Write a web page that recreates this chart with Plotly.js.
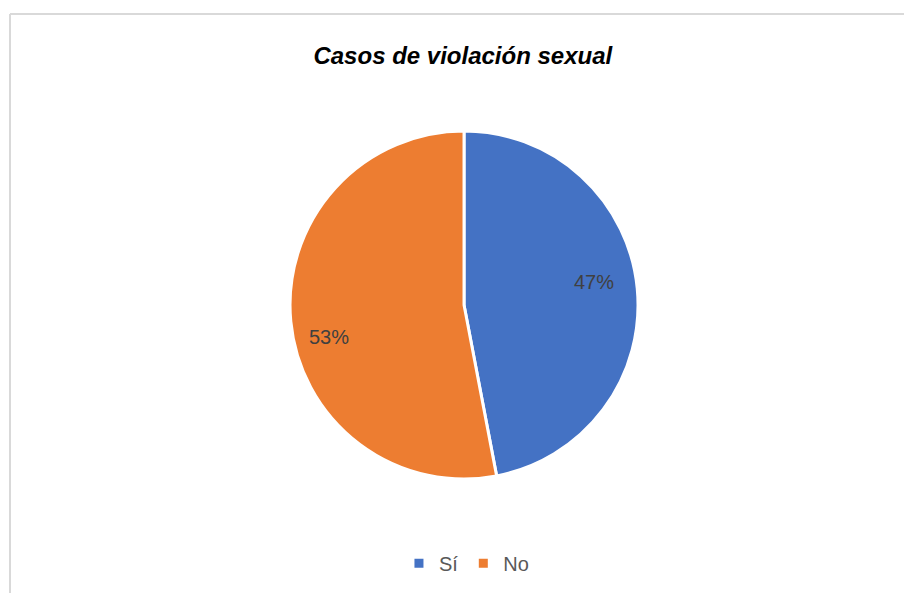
<!DOCTYPE html>
<html>
<head>
<meta charset="utf-8">
<script src="https://cdn.plot.ly/plotly-3.0.1.min.js"></script>
<style>html,body{margin:0;padding:0;background:#fff;}#chart{width:904px;height:593px;}</style>
</head>
<body>
<div id="chart"></div>
<script>
const labels = ["Sí", "No"];
const values = [47, 53];
const colors = ["#4472C4", "#ED7D31"];

const total = values.reduce((a, b) => a + b, 0);
const pctText = values.map(v => Math.round(100 * v / total) + "%");

const trace = {
  type: "pie",
  labels: labels,
  values: values,
  sort: false,
  direction: "clockwise",
  rotation: 0,
  marker: {colors: colors, line: {color: "#ffffff", width: 3}},
  textinfo: "none",
  domain: {x: [0.3208, 0.7058], y: [0.1923, 0.7791]},
  hoverinfo: "label+percent"
};

// label anchor positions (paper coords) for each slice's percentage
const labelPos = [[594 / 904, 1 - 282 / 593], [329 / 904, 1 - 337 / 593]];
const annotations = pctText.map((t, i) => ({
  text: t, xref: "paper", yref: "paper",
  x: labelPos[i][0], y: labelPos[i][1], xanchor: "center", yanchor: "middle",
  showarrow: false,
  font: {family: "Liberation Sans, Arial, sans-serif", size: 20, color: "#404040"}
}));

const layout = {
  width: 904, height: 593,
  margin: {l: 0, r: 0, t: 0, b: 0},
  paper_bgcolor: "#ffffff",
  title: {
    text: "<b><i>Casos de violación sexual</i></b>",
    font: {family: "Liberation Sans, Arial, sans-serif", size: 24, color: "#000000"},
    x: 0.512, xanchor: "center", y: 0.906, yanchor: "middle"
  },
  showlegend: true,
  legend: {
    orientation: "h", x: 0.516, xanchor: "center", y: 0.05, yanchor: "middle",
    font: {family: "Liberation Sans, Arial, sans-serif", size: 20, color: "#595959"},
    itemwidth: 30, tracegroupgap: 0
  },
  annotations: annotations,
  shapes: [
    {type: "line", xref: "paper", yref: "paper", x0: 10/904, x1: 1.01, y0: 1 - 14/593, y1: 1 - 14/593, line: {color: "#d9d9d9", width: 2}},
    {type: "line", xref: "paper", yref: "paper", x0: 10/904, x1: 10/904, y0: -0.01, y1: 1 - 14/593, line: {color: "#d9d9d9", width: 2}}
  ]
};

Plotly.newPlot("chart", [trace], layout, {displayModeBar: false, staticPlot: true});
</script>
</body>
</html>
